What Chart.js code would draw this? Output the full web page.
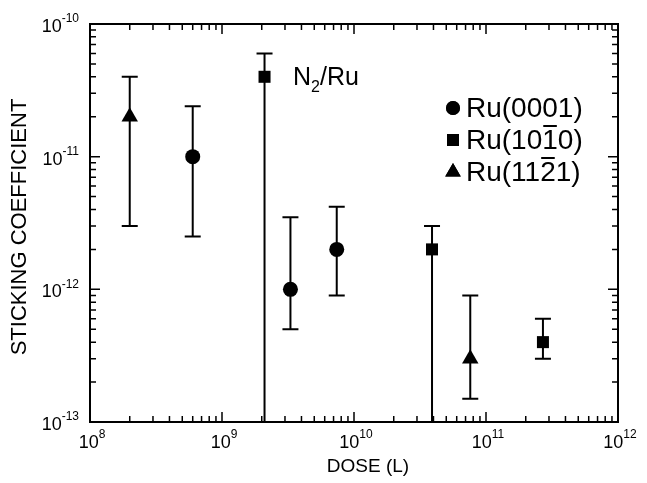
<!DOCTYPE html>
<html>
<head>
<meta charset="utf-8">
<script src="https://cdn.jsdelivr.net/npm/chart.js@4.4.0/dist/chart.umd.min.js"></script>
<style>
    html, body { margin: 0; padding: 0; background: #fff; }
    #wrap { width: 647px; height: 483px; }
</style>
</head>
<body>
<div id="wrap"><canvas id="graphCanvas"></canvas></div>
<script>
// Data
const seriesNames = ['Ru(0001)', 'Ru(1010)', 'Ru(1121)'];
const overlineAt = [-1, 5, 5]; // index of the digit carrying a bar

const dose0001 = [6e8, 3.3e9, 7.4e9];
const stick0001 = [1e-11, 1e-12, 2e-12];
const hi0001 = [2.4e-11, 3.5e-12, 4.2e-12];
const lo0001 = [2.5e-12, 5e-13, 9e-13];

const dose1010 = [2.1e9, 3.9e10, 2.7e11];
const stick1010 = [4e-11, 2e-12, 4e-13];
const hi1010 = [6e-11, 3e-12, 6e-13];
const lo1010 = [1e-14, 1e-14, 3e-13];   // first two run off the bottom of the axis

const dose1121 = [2e8, 7.6e10];
const stick1121 = [2e-11, 3e-13];
const hi1121 = [4e-11, 9e-13];
const lo1121 = [3e-12, 1.5e-13];

const xTickExp = [8, 9, 10, 11, 12];
const yTickExp = [-10, -11, -12, -13];

const FONT = '"Liberation Sans", Arial, Helvetica, sans-serif';

function pts(xs, ys) {
    return xs.map((x, i) => ({ x: x, y: ys[i] }));
}

const datasets = [
    { label: seriesNames[0], data: pts(dose0001, stick0001), pointStyle: 'circle', pointRadius: 7.5, hi: hi0001, lo: lo0001 },
    { label: seriesNames[1], data: pts(dose1010, stick1010), pointStyle: 'rect', pointRadius: 8.5, hi: hi1010, lo: lo1010 },
    { label: seriesNames[2], data: pts(dose1121, stick1121), pointStyle: 'triangle', pointRadius: 9.5, hi: hi1121, lo: lo1121 }
].map(ds => Object.assign(ds, {
    backgroundColor: '#000',
    borderColor: '#000',
    borderWidth: 0,
    pointHoverRadius: ds.pointRadius,
    showLine: false
}));

// Draws "10" with a raised exponent, anchored by align
function powerLabel(ctx, exp, x, y, align) {
    const base = '10', sup = String(exp);
    ctx.font = '18px ' + FONT;
    const wb = ctx.measureText(base).width;
    ctx.font = '12px ' + FONT;
    const ws = ctx.measureText(sup).width;
    let x0;
    if (align === 'right') x0 = x - wb - ws;
    else x0 = x - (wb + ws) / 2 + 2;
    ctx.textAlign = 'left';
    ctx.textBaseline = 'middle';
    ctx.font = '18px ' + FONT;
    ctx.fillText(base, x0, y);
    ctx.font = '12px ' + FONT;
    ctx.fillText(sup, x0 + wb, y - 8);
}

const errorBars = {
    id: 'errorBars',
    beforeDatasetsDraw(chart) {
        const ctx = chart.ctx, xs = chart.scales.x, ys = chart.scales.y;
        const a = chart.chartArea;
        ctx.save();
        ctx.beginPath();
        ctx.rect(a.left, a.top, a.right - a.left, a.bottom - a.top);
        ctx.clip();
        ctx.strokeStyle = '#000';
        ctx.lineWidth = 2;
        chart.data.datasets.forEach(ds => {
            ds.data.forEach((p, i) => {
                const px = xs.getPixelForValue(p.x);
                const yh = ys.getPixelForValue(ds.hi[i]);
                const yl = ys.getPixelForValue(ds.lo[i]);
                ctx.beginPath();
                ctx.moveTo(px, yh);
                ctx.lineTo(px, yl);
                [yh, yl].forEach(yy => {
                    if (yy >= a.top && yy <= a.bottom - 1) {
                        ctx.moveTo(px - 8, yy);
                        ctx.lineTo(px + 8, yy);
                    }
                });
                ctx.stroke();
            });
        });
        ctx.restore();
    }
};

const frame = {
    id: 'frame',
    afterDraw(chart) {
        const ctx = chart.ctx, xs = chart.scales.x, ys = chart.scales.y;
        const a = chart.chartArea;
        ctx.save();
        ctx.fillStyle = '#000';
        ctx.strokeStyle = '#000';

        // inward ticks on all four sides
        ctx.lineWidth = 1.5;
        ctx.beginPath();
        for (let e = 8; e < 12; e++) {
            for (let m = 1; m <= 9; m++) {
                const px = xs.getPixelForValue(m * Math.pow(10, e));
                const len = m === 1 ? 10 : 6;
                ctx.moveTo(px, a.bottom); ctx.lineTo(px, a.bottom - len);
                ctx.moveTo(px, a.top); ctx.lineTo(px, a.top + len);
            }
        }
        for (let e = -13; e < -10; e++) {
            for (let m = 1; m <= 9; m++) {
                const py = ys.getPixelForValue(m * Math.pow(10, e));
                const len = m === 1 ? 10 : 6;
                ctx.moveTo(a.left, py); ctx.lineTo(a.left + len, py);
                ctx.moveTo(a.right, py); ctx.lineTo(a.right - len, py);
            }
        }
        ctx.stroke();

        ctx.lineWidth = 2;
        ctx.strokeRect(a.left, a.top, a.right - a.left, a.bottom - a.top);

        // tick labels
        xTickExp.forEach(e => powerLabel(ctx, e, xs.getPixelForValue(Math.pow(10, e)), a.bottom + 21, 'center'));
        yTickExp.forEach(e => powerLabel(ctx, e, a.left - 11, ys.getPixelForValue(Math.pow(10, e)) + 3, 'right'));

        // axis titles
        ctx.textAlign = 'center';
        ctx.textBaseline = 'middle';
        ctx.font = '19px ' + FONT;
        ctx.fillText('DOSE (L)', (a.left + a.right) / 2 + 14, 467);
        ctx.save();
        ctx.font = '22px ' + FONT;
        ctx.translate(20, (a.top + a.bottom) / 2 + 4);
        ctx.rotate(-Math.PI / 2);
        ctx.fillText('STICKING COEFFICIENT', 0, 0);
        ctx.restore();

        // N2/Ru annotation
        ctx.textAlign = 'left';
        ctx.textBaseline = 'alphabetic';
        const nx = 293;
        ctx.font = '25px ' + FONT;
        ctx.fillText('N', nx, 85);
        const w = ctx.measureText('N').width;
        ctx.font = '16px ' + FONT;
        ctx.fillText('2', nx + w, 92);
        const w2 = ctx.measureText('2').width;
        ctx.font = '25px ' + FONT;
        ctx.fillText('/Ru', nx + w + w2, 85);

        // legend
        const lx = 453, ly = [108, 140, 172];
        const legendRadius = [7, 8.5, 9];
        chart.data.datasets.forEach((ds, i) => {
            Chart.helpers.drawPoint(ctx, {
                pointStyle: ds.pointStyle, radius: legendRadius[i], rotation: 0, borderWidth: 0
            }, lx, ly[i]);
            ctx.fill();
            ctx.font = '28px ' + FONT;
            ctx.textBaseline = 'middle';
            const tx = 466;
            ctx.fillText(ds.label, tx, ly[i] + 1);
            if (overlineAt[i] >= 0) {
                const pre = ctx.measureText(ds.label.slice(0, overlineAt[i])).width;
                const cw = ctx.measureText(ds.label[overlineAt[i]]).width;
                ctx.lineWidth = 2;
                ctx.beginPath();
                ctx.moveTo(tx + pre + 1, ly[i] - 14);
                ctx.lineTo(tx + pre + cw - 1, ly[i] - 14);
                ctx.stroke();
            }
        });
        ctx.restore();
    }
};

const ctx = document.getElementById('graphCanvas').getContext('2d');
const chart = new Chart(ctx, {
    type: 'scatter',
    data: { datasets: datasets },
    options: {
        responsive: true,
        maintainAspectRatio: false,
        animation: false,
        layout: { padding: { left: 90, right: 29, top: 24, bottom: 61 } },
        scales: {
            x: { type: 'logarithmic', min: 1e8, max: 1e12, display: false },
            y: { type: 'logarithmic', min: 1e-13, max: 1e-10, display: false }
        },
        plugins: {
            legend: { display: false },
            tooltip: { enabled: false }
        }
    },
    plugins: [errorBars, frame]
});
</script>
</body>
</html>
